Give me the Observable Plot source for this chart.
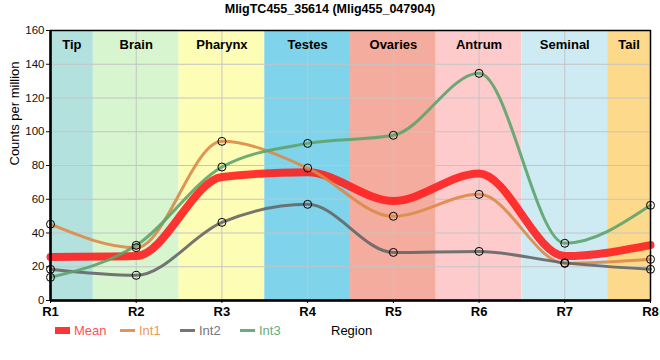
<!DOCTYPE html>
<html>
<head>
<meta charset="utf-8">
<script src="https://cdn.jsdelivr.net/npm/d3@7"></script>
<script src="https://cdn.jsdelivr.net/npm/@observablehq/plot@0.6"></script>
<style>
  body { margin: 0; background: #fff; font-family: "Liberation Sans", Arial, sans-serif; }
  #wrap { position: relative; width: 660px; height: 360px; background: #fff; overflow: hidden; }
  #title { position: absolute; top: 1px; left: 0; width: 660px; text-align: center; font-weight: bold; font-size: 12.5px; line-height: 16px; color: #000; }
  #chart { position: absolute; top: 20px; left: 0; }
  .leg { position: absolute; font-size: 13px; line-height: 14px; white-space: nowrap; }
  .sw { position: absolute; }
</style>
</head>
<body>
<div id="wrap">
  <div id="title"></div>
  <div id="chart"></div>
  <div id="legend"></div>
</div>
<script>
const titleText = "MligTC455_35614 (Mlig455_047904)";
const regionLabels = ["R1", "R2", "R3", "R4", "R5", "R6", "R7", "R8"];
const regionIndex = [1, 2, 3, 4, 5, 6, 7, 8];

const meanValues = [25.8, 26.3, 73.2, 76.0, 59.0, 75.3, 26.3, 32.8];
const int1Values = [45.2, 31.3, 94.3, 78.5, 49.9, 62.9, 22.0, 24.4];
const int2Values = [18.5, 14.9, 46.3, 57.0, 28.5, 29.1, 22.3, 18.5];
const int3Values = [13.7, 32.7, 79.1, 93.1, 97.9, 134.6, 33.9, 56.4];

const seriesNames = ["Mean", "Int1", "Int2", "Int3"];
const seriesColors = ["#ff1f1f", "#dd8a48", "#666666", "#5ea36c"];
const legendTextColors = ["#ff4f55", "#e99a5e", "#76767a", "#6aaa78"];

const bandNames = ["Tip", "Brain", "Pharynx", "Testes", "Ovaries", "Antrum", "Seminal", "Tail"];
const bandStart = [1, 1.5, 2.5, 3.5, 4.5, 5.5, 6.5, 7.5];
const bandEnd = [1.5, 2.5, 3.5, 4.5, 5.5, 6.5, 7.5, 8];
const bandColors = ["#b3e2de", "#d7f5cf", "#fdfdb5", "#7fd3ea", "#f4ac9e", "#fdcbcc", "#ceebf4", "#fcd98b"];

const yTicks = [0, 20, 40, 60, 80, 100, 120, 140, 160];

const bands = bandNames.map((name, i) => ({name, start: bandStart[i], end: bandEnd[i], color: bandColors[i], mid: (bandStart[i] + bandEnd[i]) / 2}));
const valueSets = [meanValues, int1Values, int2Values, int3Values];
const rows = [];
seriesNames.forEach((s, si) => regionIndex.forEach((x, i) => rows.push({series: s, x, y: valueSets[si][i]})));
const meanRows = rows.filter(d => d.series === "Mean");
const intRows = rows.filter(d => d.series !== "Mean");

document.getElementById("title").textContent = titleText;

const chart = Plot.plot({
  width: 660,
  height: 305,
  marginTop: 10,
  marginBottom: 25,
  marginLeft: 50,
  marginRight: 10,
  style: {fontFamily: "'Liberation Sans', Arial, sans-serif", background: "transparent", color: "#000"},
  x: {domain: [1, 8]},
  y: {domain: [0, 160]},
  color: {type: "identity"},
  marks: [
    Plot.rect(bands, {x1: "start", x2: "end", y1: 0, y2: 160, fill: "color"}),
    Plot.gridX(regionIndex, {stroke: "#c4c4c4", strokeOpacity: 1, strokeWidth: 1}),
    Plot.gridY(yTicks, {stroke: "#c4c4c4", strokeOpacity: 1, strokeWidth: 1}),
    Plot.text(bands, {x: "mid", text: "name", frameAnchor: "top", dy: 9, fontWeight: "bold", fontSize: 13, fill: "#000"}),
    Plot.line(meanRows, {x: "x", y: "y", stroke: seriesColors[0], strokeWidth: 8, strokeOpacity: 0.9, curve: "monotone-x"}),
    ...[1, 2, 3].map(k => Plot.line(intRows.filter(d => d.series === seriesNames[k]), {x: "x", y: "y", stroke: seriesColors[k], strokeWidth: 3, strokeOpacity: 0.9, curve: "monotone-x"})),
    Plot.dot(intRows, {x: "x", y: "y", r: 4, stroke: "#000", strokeWidth: 1, fill: "none"}),
    Plot.frame({stroke: "#000", strokeWidth: 1.5}),
    Plot.ruleX([1], {stroke: "#000", strokeWidth: 2.5}),
    Plot.ruleY([0], {stroke: "#000", strokeWidth: 2.5}),
    Plot.axisY(yTicks, {tickSize: 4, tickPadding: 2, fontSize: 11.5, label: null, color: "#111"}),
    Plot.axisX(regionIndex, {tickSize: 3, tickPadding: 3, fontSize: 13, fontWeight: "bold", tickFormat: i => regionLabels[i - 1], label: null, color: "#000"}),
    Plot.text(["Counts per million"], {frameAnchor: "left", dx: -36, rotate: -90, fontSize: 13, fill: "#000"})
  ]
});
document.getElementById("chart").appendChild(chart);

// legend
const legend = document.getElementById("legend");
const legendX = [55, 120, 180, 240];
seriesNames.forEach((name, i) => {
  const sw = document.createElement("div");
  sw.className = "sw";
  const thick = i === 0 ? 7 : 3;
  sw.style.left = legendX[i] + "px";
  sw.style.width = "15px";
  sw.style.height = thick + "px";
  sw.style.top = (330.5 - thick / 2) + "px";
  sw.style.background = seriesColors[i];
  sw.style.opacity = 0.9;
  legend.appendChild(sw);
  const t = document.createElement("div");
  t.className = "leg";
  t.style.left = (legendX[i] + 19) + "px";
  t.style.top = "324px";
  t.style.color = legendTextColors[i];
  t.textContent = name;
  legend.appendChild(t);
});
const reg = document.createElement("div");
reg.className = "leg";
reg.style.left = "331px";
reg.style.top = "324px";
reg.style.color = "#000";
reg.textContent = "Region";
legend.appendChild(reg);
</script>
</body>
</html>
